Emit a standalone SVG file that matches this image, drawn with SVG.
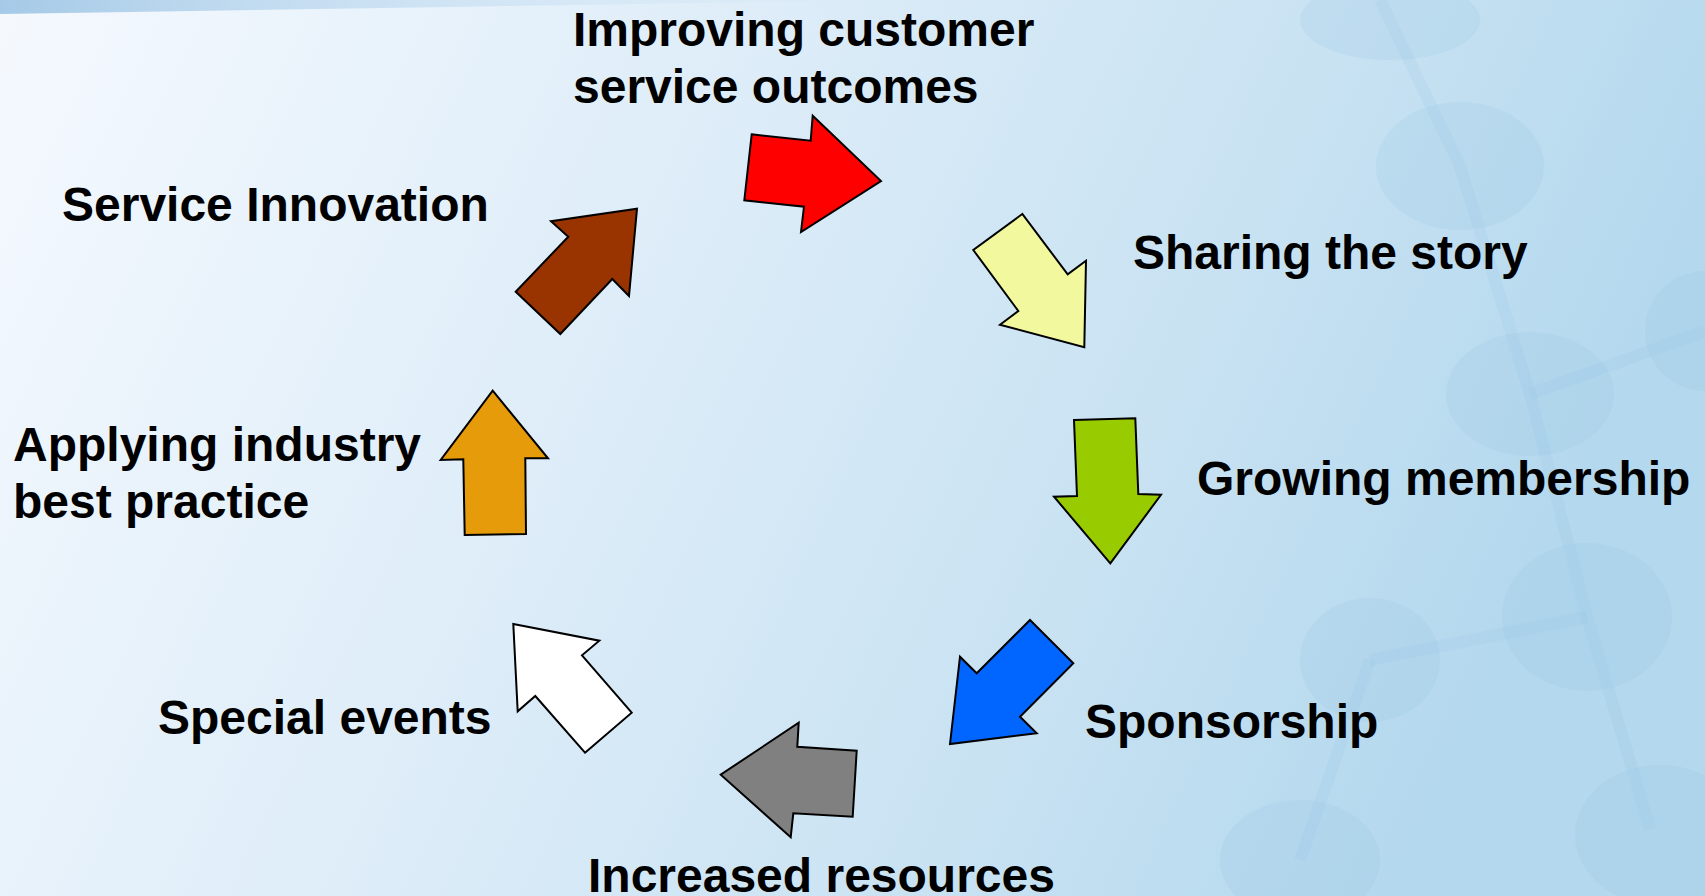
<svg xmlns="http://www.w3.org/2000/svg" width="1705" height="896" viewBox="0 0 1705 896">
  <defs>
    <linearGradient id="bg" x1="0" y1="0" x2="1" y2="0.25">
      <stop offset="0" stop-color="#f5f9fe"/>
      <stop offset="0.45" stop-color="#dcecf8"/>
      <stop offset="0.75" stop-color="#c8e2f2"/>
      <stop offset="1" stop-color="#b4d8ee"/>
    </linearGradient>
    <linearGradient id="topband" x1="0" y1="0" x2="1" y2="0">
      <stop offset="0" stop-color="#9cc4e4" stop-opacity="0.9"/>
      <stop offset="0.5" stop-color="#b8d6ee" stop-opacity="0.5"/>
      <stop offset="1" stop-color="#d0e4f4" stop-opacity="0"/>
    </linearGradient>
    <style>
      .label { font-family: "Liberation Sans", Arial, sans-serif; font-weight: bold; font-size: 48px; fill: #000; }
      .arrow { stroke: #000; stroke-width: 2; stroke-linejoin: miter; }
      .mol { fill: #8cc2e0; fill-opacity: 0.16; }
      .bond { stroke: #8cc2e0; stroke-opacity: 0.14; stroke-width: 12; }
    </style>
  </defs>

  <!-- backdrop -->
  <rect x="0" y="0" width="1705" height="896" fill="url(#bg)"/>
  <path d="M0 0 H900 Q500 6 0 14 Z" fill="url(#topband)"/>

  <!-- faint molecule pattern on the right -->
  <g id="molecules">
    <line class="bond" x1="1460" y1="166" x2="1530" y2="394"/>
    <line class="bond" x1="1530" y1="394" x2="1587" y2="617"/>
    <line class="bond" x1="1587" y1="617" x2="1650" y2="829"/>
    <line class="bond" x1="1530" y1="394" x2="1705" y2="331"/>
    <line class="bond" x1="1587" y1="617" x2="1370" y2="660"/>
    <line class="bond" x1="1370" y1="660" x2="1300" y2="860"/>
    <line class="bond" x1="1460" y1="166" x2="1380" y2="0"/>
    <ellipse class="mol" cx="1460" cy="166" rx="84" ry="64"/>
    <ellipse class="mol" cx="1530" cy="394" rx="84" ry="62"/>
    <ellipse class="mol" cx="1587" cy="617" rx="85" ry="74"/>
    <ellipse class="mol" cx="1660" cy="835" rx="85" ry="70"/>
    <ellipse class="mol" cx="1705" cy="331" rx="60" ry="60"/>
    <ellipse class="mol" cx="1370" cy="660" rx="70" ry="62"/>
    <ellipse class="mol" cx="1300" cy="860" rx="80" ry="60"/>
    <ellipse class="mol" cx="1390" cy="20" rx="90" ry="40"/>
  </g>

  <!-- cycle arrows -->
  <g id="connectors">
    <polygon class="arrow" fill="#ff0000" points="751.7,134.3 810.7,140.7 812.7,115.7 881,181 801,232 804,206.7 744.3,200.3"/>
    <polygon class="arrow" fill="#f2f89e" points="1022.3,214 973.3,250 1018.3,311 1000,324.7 1084.3,347.3 1086,260.7 1067.7,274.3"/>
    <polygon class="arrow" fill="#99cc00" points="1074,420 1135.3,418.3 1138.3,494 1161,494.8 1110.3,563.3 1054,496.7 1077,496"/>
    <polygon class="arrow" fill="#0066ff" points="1030,620 1073.3,663.3 1020,716.7 1036.7,733.3 950,744 960,656.7 976.7,673.3"/>
    <polygon class="arrow" fill="#808080" points="856.7,750.7 852.7,816.7 793.3,813.3 790.7,837.3 720.7,774.7 798.7,722.7 797.3,746.7"/>
    <polygon class="arrow" fill="#ffffff" points="585,752.7 631.7,712.7 582,655.3 599.3,640.7 513.3,624 517.7,711.3 535.3,696"/>
    <polygon class="arrow" fill="#e69c0a" points="464.7,535 526,534 525.3,458.3 548,458.3 492.7,390.7 440.7,460 463.3,459.3"/>
    <polygon class="arrow" fill="#993300" points="515.7,291.7 560.3,334 612.3,279 629,296 637,208.7 551,221.3 568.3,236.7"/>
  </g>

  <!-- labels -->
  <g id="node-improving">
    <text class="label" x="573" y="46">Improving customer</text>
    <text class="label" x="573" y="103">service outcomes</text>
  </g>
  <g id="node-sharing">
    <text class="label" x="1133" y="269">Sharing the story</text>
  </g>
  <g id="node-growing">
    <text class="label" x="1197" y="495">Growing membership</text>
  </g>
  <g id="node-sponsorship">
    <text class="label" x="1085" y="738">Sponsorship</text>
  </g>
  <g id="node-resources">
    <text class="label" x="588" y="892">Increased resources</text>
  </g>
  <g id="node-events">
    <text class="label" x="158" y="734">Special events</text>
  </g>
  <g id="node-applying">
    <text class="label" x="13" y="461">Applying industry</text>
    <text class="label" x="13" y="518">best practice</text>
  </g>
  <g id="node-innovation">
    <text class="label" x="62" y="221">Service Innovation</text>
  </g>
</svg>
